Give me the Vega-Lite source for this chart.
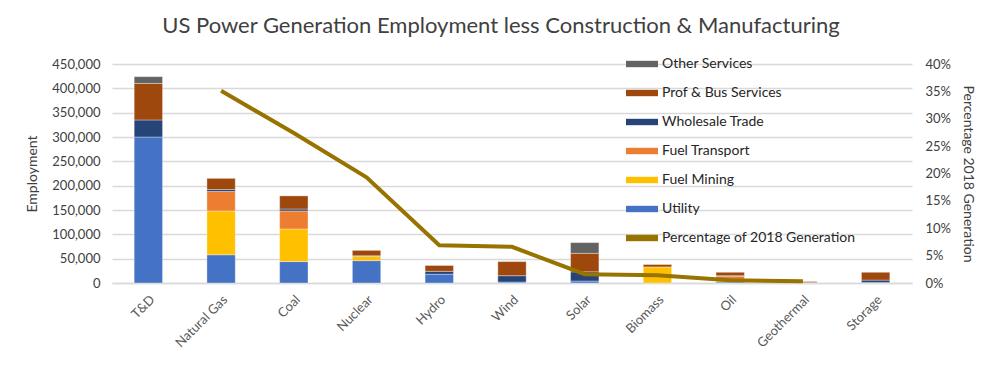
{
  "$schema": "https://vega.github.io/schema/vega-lite/v6.json",
  "width": 800,
  "height": 219,
  "autosize": {"type": "none"},
  "padding": {"left": 112, "top": 64, "right": 88, "bottom": 90},
  "background": "white",
  "title": {
    "text": "US Power Generation Employment less Construction & Manufacturing",
    "font": "Lato",
    "fontSize": 22,
    "fontWeight": "normal",
    "color": "#404040",
    "anchor": "middle",
    "frame": "group",
    "offset": 18,
    "dx": -11
  },
  "config": {
    "view": {"stroke": null},
    "font": "Lato"
  },
  "datasets": {
    "jobs": [
      {"Technology": "T&D", "Sector": "Utility", "Employment": 300000},
      {"Technology": "T&D", "Sector": "Wholesale Trade", "Employment": 35000},
      {"Technology": "T&D", "Sector": "Prof & Bus Services", "Employment": 75000},
      {"Technology": "T&D", "Sector": "Other Services", "Employment": 14000},
      {"Technology": "Natural Gas", "Sector": "Utility", "Employment": 58000},
      {"Technology": "Natural Gas", "Sector": "Fuel Mining", "Employment": 90000},
      {"Technology": "Natural Gas", "Sector": "Fuel Transport", "Employment": 40000},
      {"Technology": "Natural Gas", "Sector": "Wholesale Trade", "Employment": 4000},
      {"Technology": "Natural Gas", "Sector": "Prof & Bus Services", "Employment": 23000},
      {"Technology": "Coal", "Sector": "Utility", "Employment": 44000},
      {"Technology": "Coal", "Sector": "Fuel Mining", "Employment": 67000},
      {"Technology": "Coal", "Sector": "Fuel Transport", "Employment": 37000},
      {"Technology": "Coal", "Sector": "Wholesale Trade", "Employment": 4000},
      {"Technology": "Coal", "Sector": "Prof & Bus Services", "Employment": 27000},
      {"Technology": "Nuclear", "Sector": "Utility", "Employment": 46000},
      {"Technology": "Nuclear", "Sector": "Fuel Mining", "Employment": 9000},
      {"Technology": "Nuclear", "Sector": "Wholesale Trade", "Employment": 1000},
      {"Technology": "Nuclear", "Sector": "Prof & Bus Services", "Employment": 11000},
      {"Technology": "Hydro", "Sector": "Utility", "Employment": 18000},
      {"Technology": "Hydro", "Sector": "Wholesale Trade", "Employment": 6000},
      {"Technology": "Hydro", "Sector": "Prof & Bus Services", "Employment": 12000},
      {"Technology": "Wind", "Sector": "Utility", "Employment": 2000},
      {"Technology": "Wind", "Sector": "Wholesale Trade", "Employment": 13000},
      {"Technology": "Wind", "Sector": "Prof & Bus Services", "Employment": 29000},
      {"Technology": "Solar", "Sector": "Utility", "Employment": 4000},
      {"Technology": "Solar", "Sector": "Wholesale Trade", "Employment": 19000},
      {"Technology": "Solar", "Sector": "Prof & Bus Services", "Employment": 38000},
      {"Technology": "Solar", "Sector": "Other Services", "Employment": 22000},
      {"Technology": "Biomass", "Sector": "Fuel Mining", "Employment": 33000},
      {"Technology": "Biomass", "Sector": "Prof & Bus Services", "Employment": 5000},
      {"Technology": "Oil", "Sector": "Utility", "Employment": 2000},
      {"Technology": "Oil", "Sector": "Fuel Mining", "Employment": 3000},
      {"Technology": "Oil", "Sector": "Fuel Transport", "Employment": 9000},
      {"Technology": "Oil", "Sector": "Wholesale Trade", "Employment": 1000},
      {"Technology": "Oil", "Sector": "Prof & Bus Services", "Employment": 7000},
      {"Technology": "Geothermal", "Sector": "Utility", "Employment": 1000},
      {"Technology": "Geothermal", "Sector": "Prof & Bus Services", "Employment": 2000},
      {"Technology": "Storage", "Sector": "Utility", "Employment": 1000},
      {"Technology": "Storage", "Sector": "Wholesale Trade", "Employment": 5000},
      {"Technology": "Storage", "Sector": "Prof & Bus Services", "Employment": 16000}
    ],
    "share": [
      {"Technology": "Natural Gas", "Share": 0.351},
      {"Technology": "Coal", "Share": 0.274},
      {"Technology": "Nuclear", "Share": 0.193},
      {"Technology": "Hydro", "Share": 0.069},
      {"Technology": "Wind", "Share": 0.066},
      {"Technology": "Solar", "Share": 0.016},
      {"Technology": "Biomass", "Share": 0.014},
      {"Technology": "Oil", "Share": 0.005},
      {"Technology": "Geothermal", "Share": 0.003}
    ]
  },
  "encoding": {
    "x": {
      "field": "Technology",
      "type": "nominal",
      "sort": ["T&D", "Natural Gas", "Coal", "Nuclear", "Hydro", "Wind", "Solar", "Biomass", "Oil", "Geothermal", "Storage"],
      "scale": {"paddingInner": 0.61, "paddingOuter": 0.305},
      "axis": {
        "title": null,
        "labelAngle": -45,
        "labelFontSize": 13,
        "labelColor": "#595959",
        "labelPadding": 10,
        "ticks": false,
        "domainColor": "#d9d9d9",
        "domainWidth": 1.5
      }
    }
  },
  "layer": [
    {
      "data": {"name": "jobs"},
      "transform": [
        {"calculate": "indexof(['Utility','Fuel Mining','Fuel Transport','Wholesale Trade','Prof & Bus Services','Other Services'], datum.Sector)", "as": "StackRank"}
      ],
      "mark": {"type": "bar", "stroke": "white", "strokeOpacity": 0.35, "strokeWidth": 1},
      "encoding": {
        "y": {
          "field": "Employment",
          "type": "quantitative",
          "aggregate": "sum",
          "stack": "zero",
          "scale": {"domain": [0, 450000]},
          "axis": {
            "title": "Employment",
            "titleFontSize": 14,
            "titleFontWeight": "normal",
            "titleColor": "#404040",
            "titlePadding": 12,
            "values": [0, 50000, 100000, 150000, 200000, 250000, 300000, 350000, 400000, 450000],
            "format": ",d",
            "labelFontSize": 13,
            "labelColor": "#404040",
            "labelPadding": 12,
            "ticks": false,
            "domain": false,
            "gridColor": "#d9d9d9",
            "gridWidth": 1.5
          }
        },
        "order": {"field": "StackRank", "type": "quantitative", "sort": "ascending"},
        "color": {
          "field": "Sector",
          "type": "nominal",
          "scale": {
            "domain": ["Other Services", "Prof & Bus Services", "Wholesale Trade", "Fuel Transport", "Fuel Mining", "Utility", "Percentage of 2018 Generation"],
            "range": ["#636363", "#9e480e", "#264478", "#ed7d31", "#ffc000", "#4472c4", "#997300"]
          },
          "legend": {
            "title": null,
            "orient": "none",
            "legendX": 522,
            "legendY": -8,
            "symbolType": "M-2,-0.4H2V0.4H-2Z",
            "symbolSize": 256,
            "symbolStrokeWidth": 0,
            "labelOffset": 12,
            "labelFontSize": 14,
            "labelLimit": 400,
            "labelColor": "#262626",
            "rowPadding": 14
          }
        }
      }
    },
    {
      "data": {"name": "share"},
      "mark": {"type": "line", "strokeWidth": 4},
      "encoding": {
        "y": {
          "field": "Share",
          "type": "quantitative",
          "scale": {"domain": [0, 0.4]},
          "axis": {
            "orient": "right",
            "title": "Percentage 2018 Generation",
            "titleFontSize": 14,
            "titleFontWeight": "normal",
            "titleColor": "#404040",
            "titlePadding": 10,
            "values": [0, 0.05, 0.1, 0.15, 0.2, 0.25, 0.3, 0.35, 0.4],
            "format": ".0%",
            "labelFontSize": 13,
            "labelColor": "#404040",
            "labelPadding": 13,
            "ticks": false,
            "domain": false,
            "grid": false
          }
        },
        "color": {"datum": "Percentage of 2018 Generation"}
      }
    }
  ],
  "resolve": {"scale": {"y": "independent"}}
}
